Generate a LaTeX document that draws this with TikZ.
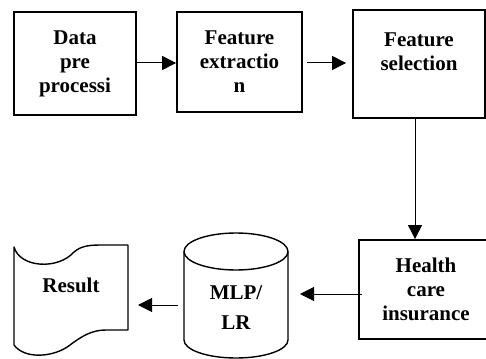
\documentclass[tikz,border=0pt]{standalone}
\usepackage{fontspec}
\setmainfont{Liberation Serif}
\usetikzlibrary{arrows.meta}
\tikzset{
  txt/.style={font=\fontsize{21}{24}\selectfont\bfseries, align=center, inner sep=0pt},
  stepbox/.style={txt, draw, line width=1.8pt, rectangle},
  arr/.style={line width=1pt, -{Triangle[length=14pt,width=14pt]}},
  shapeline/.style={line width=1.4pt, line join=round}
}
\begin{document}
\begin{tikzpicture}[x=1pt,y=-1pt]
\useasboundingbox (0,0) rectangle (486,358);
% top row
\node[stepbox, minimum width=122pt, minimum height=103pt] (pre) at (75,63.5) {Data\\pre\\processi};
\node[stepbox, minimum width=125pt, minimum height=100pt] (ext) at (239.5,62) {Feature\\extractio\\n};
\node[stepbox, minimum width=132pt, minimum height=108pt] (sel) at (419,64) {Feature\\selection\\\phantom{n}};
% health
\node[stepbox, minimum width=134pt, minimum height=99pt] (hea) at (426,289.5) {Health\\care\\insurance};
% cylinder
\draw[shapeline] (236,251.5) ellipse [x radius=52, y radius=18.5];
\draw[shapeline] (184,251.5) -- (184,340) arc[start angle=180, end angle=360, x radius=52, y radius=-18] -- (288,251.5);
\node[txt] (mlp) at (236,308) {MLP/\\[6pt]LR};
% result (tape)
\draw[shapeline] (14,247) .. controls (20,268) and (58,270) .. (74,252)
  .. controls (82,245) and (92,245) .. (104,245) -- (128,245) -- (128,330) -- (106,330)
  .. controls (92,330) and (82,336) .. (70,345)
  .. controls (55,357) and (25,360) .. (14,345) -- cycle;
\node[txt, anchor=base] (res) at (71,292) {Result};
% connectors
\draw[arr] (pre.east |- 0,63) -- (ext.west |- 0,63);
\draw[arr, shorten <=4pt, shorten >=6pt] (ext.east |- 0,63) -- (sel.west |- 0,63);
\coordinate (vx) at (415,0);
\draw[arr] (vx |- sel.south) -- (vx |- hea.north);
\coordinate (cylR) at (288,294);
\coordinate (cylL) at (184,305);
\coordinate (resR) at (128,305);
\draw[arr, shorten <=-4pt, shorten >=12pt] (hea.west |- cylR) -- (cylR);
\draw[arr, shorten <=6pt, shorten >=10pt] (cylL) -- (resR);
\end{tikzpicture}
\end{document}
